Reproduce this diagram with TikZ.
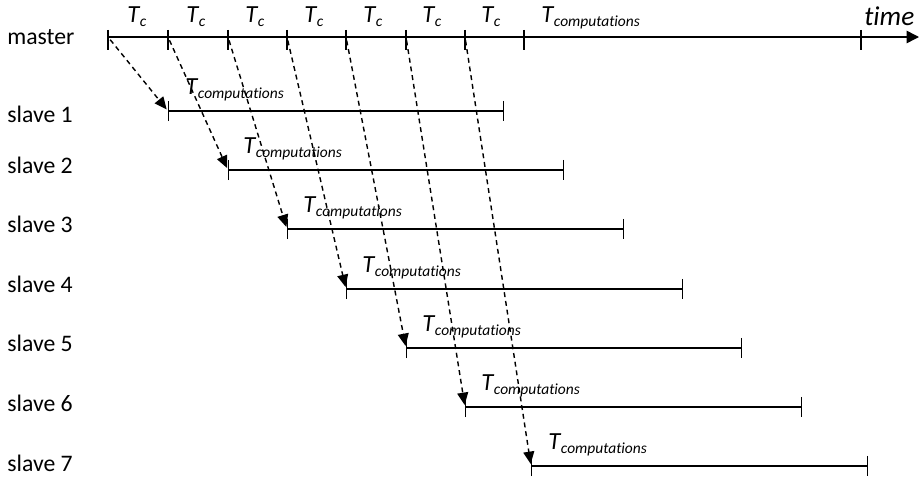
\documentclass[tikz,border=0pt]{standalone}
\usepackage{fontspec}
\setmainfont{Carlito}[Ligatures=NoCommon]
\usetikzlibrary{arrows.meta}

\newcommand{\Tsub}[1]{\textit{T}\kern-0.2pt\raisebox{-0.4ex}{\fontsize{8.8}{10}\selectfont\textit{#1}}}

\begin{document}
\begin{tikzpicture}[x=0.02cm,y=-0.02cm,
	timeline/.style={line width=0.85pt},
	slaveline/.style={line width=0.85pt,{Bar[width=11.4pt]}-{Bar[width=11.4pt]}},
	msg/.style={dash pattern=on 2.8pt off 2.2pt,line width=0.8pt,shorten <=2pt,shorten >=1.2pt,-{Triangle[length=7pt,width=6.2pt]}},
	lbl/.style={anchor=west,inner sep=0pt,font=\fontsize{13.5}{15}\selectfont},
	tlbl/.style={anchor=base west,inner sep=0pt,font=\fontsize{14}{16}\selectfont}]
		\useasboundingbox (0,0) rectangle (923,480);
		\coordinate (m0) at (108,37);
		\coordinate (m1) at (168,37);
		\coordinate (m2) at (228,37);
		\coordinate (m3) at (287,37);
		\coordinate (m4) at (346,37);
		\coordinate (m5) at (406,37);
		\coordinate (m6) at (465,37);
		\coordinate (m7) at (524,37);
		\coordinate (m8) at (861,37);
		\coordinate (mend) at (919,37);
		\coordinate (s1) at (168,111);
		\coordinate (s2) at (228,170);
		\coordinate (s3) at (287,229);
		\coordinate (s4) at (346,289);
		\coordinate (s5) at (406,348);
		\coordinate (s6) at (465,407);
		\coordinate (s7) at (531,466);
		\coordinate (e1) at (504,111);
		\coordinate (e2) at (564,170);
		\coordinate (e3) at (624,229);
		\coordinate (e4) at (683,289);
		\coordinate (e5) at (742,348);
		\coordinate (e6) at (802,407);
		\coordinate (e7) at (868,466);
		% master time axis
		\draw[timeline,-{Triangle[length=7pt,width=7pt]}] (m0) -- (mend);
		\draw[timeline] ([yshift=4pt]m0) -- ([yshift=-7.4pt]m0);
		\draw[timeline] ([yshift=4pt]m1) -- ([yshift=-7.4pt]m1);
		\draw[timeline] ([yshift=4pt]m2) -- ([yshift=-7.4pt]m2);
		\draw[timeline] ([yshift=4pt]m3) -- ([yshift=-7.4pt]m3);
		\draw[timeline] ([yshift=4pt]m4) -- ([yshift=-7.4pt]m4);
		\draw[timeline] ([yshift=4pt]m5) -- ([yshift=-7.4pt]m5);
		\draw[timeline] ([yshift=4pt]m6) -- ([yshift=-7.4pt]m6);
		\draw[timeline] ([yshift=4pt]m7) -- ([yshift=-7.4pt]m7);
		\draw[timeline] ([yshift=4pt]m8) -- ([yshift=-7.4pt]m8);
		% slave computations
		\draw[slaveline] (s1) -- (e1);
		\draw[slaveline] (s2) -- (e2);
		\draw[slaveline] (s3) -- (e3);
		\draw[slaveline] (s4) -- (e4);
		\draw[slaveline] (s5) -- (e5);
		\draw[slaveline] (s6) -- (e6);
		\draw[slaveline] (s7) -- (e7);
		% messages from the master
		\draw[msg] (m0) -- (s1);
		\draw[msg] (m1) -- (s2);
		\draw[msg] (m2) -- (s3);
		\draw[msg] (m3) -- (s4);
		\draw[msg] (m4) -- (s5);
		\draw[msg] (m5) -- (s6);
		\draw[msg] (m6) -- (s7);
		\node[lbl] (master) at (7,37) {master};
		\node[lbl] (sl1) at (7,114) {slave 1};
		\node[lbl] (sl2) at (7,165) {slave 2};
		\node[lbl] (sl3) at (7,224) {slave 3};
		\node[lbl] (sl4) at (7,284) {slave 4};
		\node[lbl] (sl5) at (7,343) {slave 5};
		\node[lbl] (sl6) at (7,403) {slave 6};
		\node[lbl] (sl7) at (7,463) {slave 7};
		\node[tlbl] (tc1) at (127,22) {\Tsub{c}};
		\node[tlbl] (tc2) at (186,22) {\Tsub{c}};
		\node[tlbl] (tc3) at (245,22) {\Tsub{c}};
		\node[tlbl] (tc4) at (304,22) {\Tsub{c}};
		\node[tlbl] (tc5) at (363,22) {\Tsub{c}};
		\node[tlbl] (tc6) at (422,22) {\Tsub{c}};
		\node[tlbl] (tc7) at (481,22) {\Tsub{c}};
		\node[tlbl] (tm) at (541,22) {\Tsub{computations}};
		\node[tlbl,font=\fontsize{15.5}{17}\selectfont] (time) at (864,26) {\itshape time};
		\node[tlbl] (tcomp1) at (185,94) {\Tsub{computations}};
		\node[tlbl] (tcomp2) at (243,153) {\Tsub{computations}};
		\node[tlbl] (tcomp3) at (303,212) {\Tsub{computations}};
		\node[tlbl] (tcomp4) at (362,272) {\Tsub{computations}};
		\node[tlbl] (tcomp5) at (422,331) {\Tsub{computations}};
		\node[tlbl] (tcomp6) at (481,390) {\Tsub{computations}};
		\node[tlbl] (tcomp7) at (548,449) {\Tsub{computations}};
	\end{tikzpicture}
\end{document}
